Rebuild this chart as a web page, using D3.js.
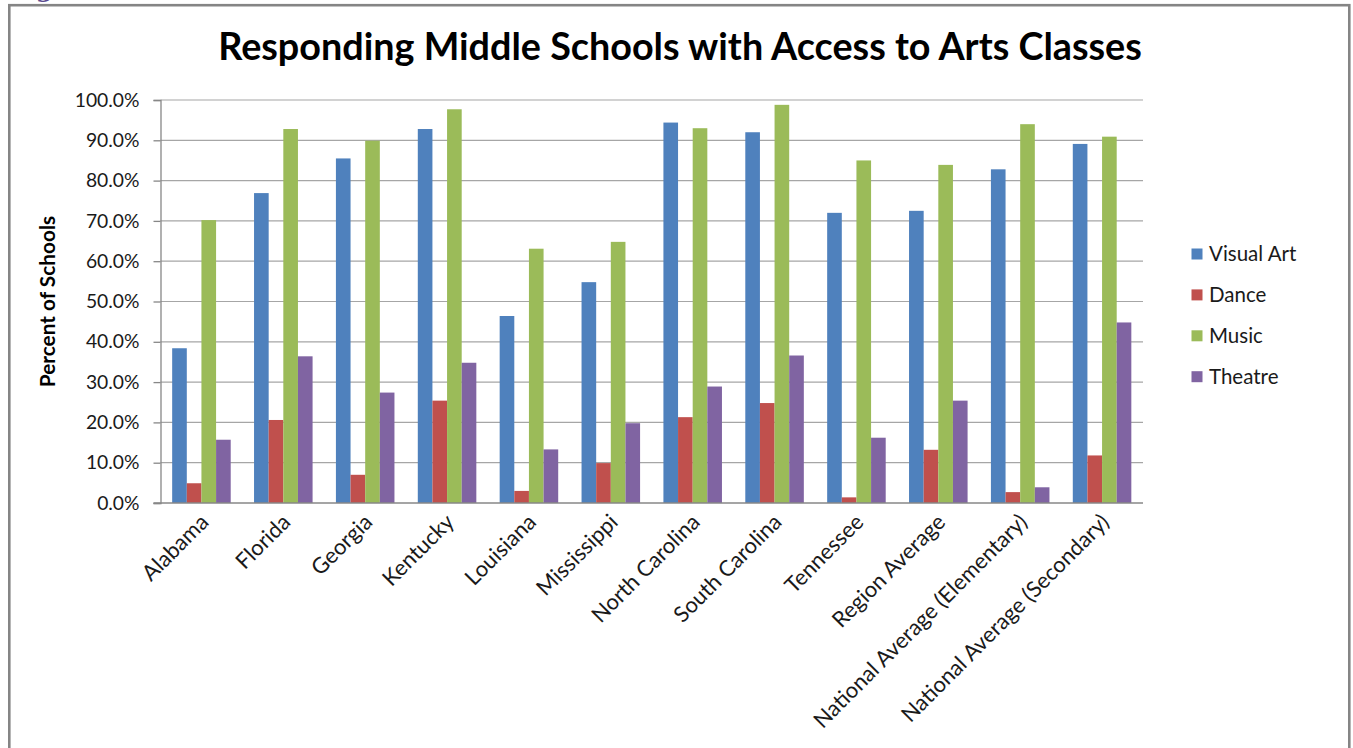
<!DOCTYPE html>
<html>
<head>
<meta charset="utf-8">
<script src="https://cdn.jsdelivr.net/npm/d3@7"></script>
<style>
  html, body { margin: 0; padding: 0; background: #ffffff; }
  svg { display: block; }
</style>
</head>
<body>
<svg id="chart" width="1353" height="748"></svg>
<script>
const categories = ["Alabama", "Florida", "Georgia", "Kentucky", "Louisiana", "Mississippi",
  "North Carolina", "South Carolina", "Tennessee", "Region Average",
  "National Average (Elementary)", "National Average (Secondary)"];
const seriesNames = ["Visual Art", "Dance", "Music", "Theatre"];
const visualArt = [38.4, 76.9, 85.5, 92.8, 46.4, 54.8, 94.4, 92.0, 72.0, 72.5, 82.8, 89.1];
const dance     = [4.9, 20.6, 7.0, 25.4, 3.0, 9.9, 21.3, 24.8, 1.4, 13.2, 2.7, 11.8];
const music     = [70.2, 92.8, 89.9, 97.7, 63.1, 64.8, 93.0, 98.8, 85.0, 83.9, 94.0, 90.9];
const theatre   = [15.7, 36.4, 27.4, 34.8, 13.3, 19.8, 28.9, 36.6, 16.2, 25.4, 3.9, 44.8];
const yTicks = [0, 10, 20, 30, 40, 50, 60, 70, 80, 90, 100];
const colors = ["#4F81BD", "#C0504D", "#9BBB59", "#8064A2"];
const titleText = "Responding Middle Schools with Access to Arts Classes";
const yTitle = "Percent of Schools";

const seriesValues = [visualArt, dance, music, theatre];
const rows = categories.map((c, i) => ({
  cat: c,
  vals: seriesNames.map((s, j) => ({ key: s, value: seriesValues[j][i], color: colors[j] }))
}));

const svg = d3.select("#chart");
const font = "Lato, 'Open Sans', sans-serif";

// outer frame
svg.append("rect")
  .attr("x", 9.3).attr("y", 5.2).attr("width", 1340).attr("height", 780)
  .attr("fill", "none").attr("stroke", "#858585").attr("stroke-width", 2.6);

// clipped caption fragment at top-left (cut off in the reference too)
svg.append("text").attr("x", 36).attr("y", -3)
  .attr("font-family", "'DejaVu Serif', serif").attr("font-weight", "bold")
  .attr("font-size", 24).attr("fill", "#5b4a8e").text("g");

const margin = { left: 160.5, right: 1143, top: 100, bottom: 503 };

const x0 = d3.scaleBand().domain(categories).range([margin.left, margin.right])
  .paddingInner(0.285).paddingOuter(0.1425);
const x1 = d3.scaleBand().domain(seriesNames).range([0, x0.bandwidth()]);
const y = d3.scaleLinear().domain([0, 100]).range([margin.bottom, margin.top]);

// gridlines
svg.append("g").selectAll("line").data(yTicks.filter(t => t > 0)).join("line")
  .attr("x1", margin.left).attr("x2", margin.right)
  .attr("y1", d => y(d)).attr("y2", d => y(d))
  .attr("stroke", "#a6a6a6").attr("stroke-width", 1.2);

// bars
const groups = svg.append("g").selectAll("g").data(rows).join("g")
  .attr("transform", d => `translate(${x0(d.cat)},0)`);
groups.selectAll("rect").data(d => d.vals).join("rect")
  .attr("x", d => x1(d.key))
  .attr("width", x1.bandwidth())
  .attr("y", d => y(d.value))
  .attr("height", d => y(0) - y(d.value))
  .attr("fill", d => d.color);

// y axis
const yAxis = d3.axisLeft(y).tickValues(yTicks).tickSize(7).tickPadding(14)
  .tickFormat(d => d3.format(".1f")(d) + "%");
const yg = svg.append("g").attr("transform", `translate(${margin.left},0)`).call(yAxis);
yg.select(".domain").attr("stroke", "#878787").attr("stroke-width", 1.3);
yg.selectAll(".tick line").attr("stroke", "#878787").attr("stroke-width", 1.3);
yg.selectAll(".tick text").attr("font-family", font).attr("font-size", 19.3).attr("fill", "#1a1a1a");

// x axis line
svg.append("line").attr("x1", margin.left - 7).attr("x2", margin.right)
  .attr("y1", y(0)).attr("y2", y(0)).attr("stroke", "#878787").attr("stroke-width", 1.3);

// x category labels
svg.append("g").selectAll("text").data(categories).join("text")
  .attr("transform", d => `translate(${x0(d) + x0.bandwidth() / 2 + 3},${margin.bottom + 15}) rotate(-45)`)
  .attr("text-anchor", "end").attr("dy", "0.35em")
  .attr("font-family", font).attr("font-size", 22).attr("fill", "#1a1a1a")
  .text(d => d);

// y title
svg.append("text")
  .attr("transform", `translate(55,${(margin.top + margin.bottom) / 2}) rotate(-90)`)
  .attr("text-anchor", "middle")
  .attr("font-family", font).attr("font-weight", "bold").attr("font-size", 20.8)
  .attr("fill", "#000").text(yTitle);

// title
const title = svg.append("text")
  .attr("x", 680).attr("y", 60).attr("text-anchor", "middle")
  .attr("font-family", font).attr("font-weight", "bold").attr("font-size", 36)
  .attr("fill", "#000").text(titleText);
const tl = title.node().getComputedTextLength();
title.attr("font-size", 36 * 924 / tl);

// legend
const legend = svg.append("g").selectAll("g").data(seriesNames).join("g")
  .attr("transform", (d, i) => `translate(1191.5,${254 + i * 40.9})`);
legend.append("rect").attr("x", 0).attr("y", -5.5).attr("width", 11).attr("height", 11)
  .attr("fill", (d, i) => colors[i]);
legend.append("text").attr("x", 17.5).attr("y", 0).attr("dy", "0.35em")
  .attr("font-family", font).attr("font-size", 20.5).attr("fill", "#1a1a1a")
  .text(d => d);
</script>
</body>
</html>
